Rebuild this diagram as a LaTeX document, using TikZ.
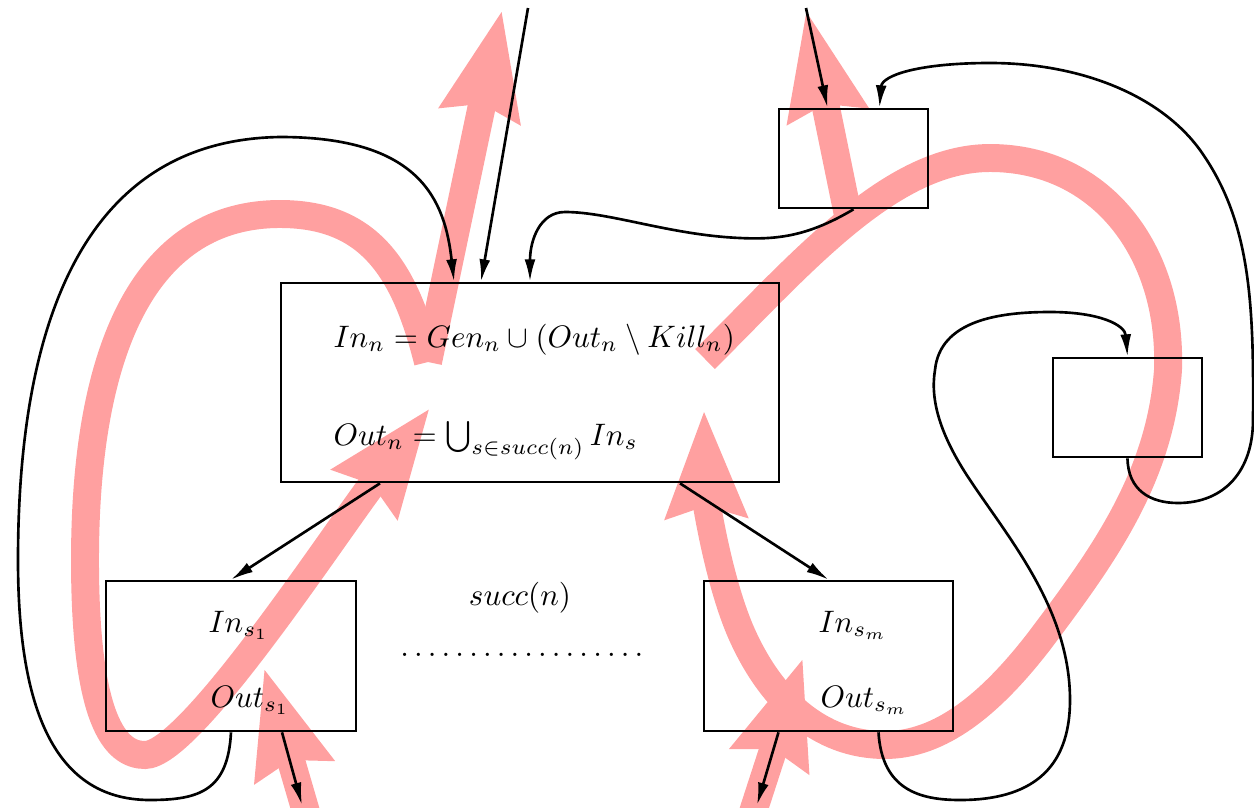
\documentclass[tikz,border=0pt]{standalone}
\usepackage{tikz}
\usetikzlibrary
  {
    arrows.meta,   % Latex and Stealth tips
    backgrounds,   % flows behind the boxes
    calc,          % shifted anchors
  }
\newlength\pxu
\setlength\pxu{0.322pt}
\definecolor{flowpink}{RGB}{255,160,160}

\begin{document}
\begin{tikzpicture}[x=\pxu, y=-\pxu,
    box/.style 2 args = {draw, line width=0.85pt, inner sep=0pt,
      minimum width=#1*\pxu, minimum height=#2*\pxu},
    lbl/.style = {inner sep=0pt, anchor=base west},
    conn/.style = {line width=0.85pt, -{Latex[length=7.2pt,width=3.5pt]}},
    flow/.style = {draw=flowpink, line width=9pt,
      -{Stealth[length=34pt,width=25pt,inset=3.2pt]}},
  ]
  \useasboundingbox (0,0) rectangle (1254,808);

  % the node and its successors
  \node[box={498}{199}] (n)  at (530,382.5) {};
  \node[box={250}{150}] (s1) at (231,656)   {};
  \node[box={249}{150}] (sm) at (828.5,656) {};
  \node[box={149}{99}]  (p1) at (853.5,158.5) {};
  \node[box={149}{99}]  (p2) at (1127.5,407.5) {};

  \node[lbl] (eqin)  at (333,347) {$In_n = Gen_n \cup (Out_n \setminus Kill_n)$};
  \node[lbl] (eqout) at (333,445) {$Out_n = \bigcup_{s \in succ(n)} In_s$};
  \node[lbl] (ins1)  at (208,632) {$In_{s_1}$};
  \node[lbl] (outs1) at (210,707) {$Out_{s_1}$};
  \node[lbl] (insm)  at (818,632) {$In_{s_m}$};
  \node[lbl] (outsm) at (820,707) {$Out_{s_m}$};
  \node (succ) at (520,598) {$succ(n)$};
  \node (dots) at (522,655) {$\ldots\ldots\ldots\ldots\ldots\ldots$};

  \coordinate (topa) at (528,8);
  \coordinate (topb) at (806,8);
  \coordinate (bota) at (302,805);
  \coordinate (botb) at (757,805);

  % control flow
  \draw[conn] ($(n.south)+(-150,0)$) -- (s1.north);
  \draw[conn] ($(n.south)+(150,0)$) -- (sm.north);
  \draw[conn] (topa) -- ($(n.north)+(-49,0)$);
  \draw[conn] (topb) -- ($(p1.north)+(-26,0)$);
  \draw[conn] ($(s1.south)+(51,0)$) -- (bota);
  \draw[conn] ($(sm.south)+(-50,0)$) -- (botb);
  \draw[conn] (s1.south) .. controls (228,790) and (200,800) .. (150,800)
    .. controls (50,800) and (18,700) .. (18,560)
    .. controls (18,330) and (80,140) .. (280,137)
    .. controls (420,137) and (445,200) .. ($(n.north)+(-76,0)$);
  \draw[conn] (p1.south) .. controls (810,235) and (780,240) .. (740,238)
    .. controls (670,235) and (610,212) .. (565,212)
    .. controls (540,212) and (530,240) .. (n.north);
  \draw[conn] ($(sm.south)+(50,0)$) .. controls (882,790) and (920,800) .. (960,800)
    .. controls (1030,800) and (1070,770) .. (1070,700)
    .. controls (1070,610) and (1010,540) .. (970,480)
    .. controls (940,435) and (930,400) .. (935,370)
    .. controls (940,320) and (1000,312) .. (1050,312)
    .. controls (1100,312) and (1125,325) .. (p2.north);
  \draw[conn] (p2.south) .. controls (1128,490) and (1150,503) .. (1178,503)
    .. controls (1225,503) and (1253,470) .. (1253,420)
    .. controls (1254,300) and (1250,220) .. (1200,150)
    .. controls (1160,95) and (1080,63) .. (990,63)
    .. controls (920,63) and (882,75) .. ($(p1.north)+(26,0)$);

  % information flow
  \begin{scope}[on background layer]
    \coordinate (tailin)  at (428,362);
    \coordinate (tailout) at (705,359);
    \coordinate (tailp1)  at (848,215);
    \coordinate (srca) at (306,812);
    \coordinate (srcb) at (753,812);
    \draw[flow] (tailin) .. controls (405,270) and (370,214) .. (280,214)
      .. controls (150,214) and (85,340) .. (85,560)
      .. controls (85,720) and (115,755) .. (145,755)
      .. controls (190,755) and (330,540) .. (430,408);
    \draw[flow] (tailin) -- (502,10);
    \draw[flow] (tailout) .. controls (800,265) and (890,158) .. (990,158)
      .. controls (1100,158) and (1172,250) .. (1168,370)
      .. controls (1160,480) and (1100,560) .. (1040,640)
      .. controls (990,705) and (940,745) .. (885,745)
      .. controls (820,745) and (770,700) .. (740,630)
      .. controls (718,578) and (706,500) .. (704,410);
    \draw[flow] (tailp1) -- (806,10);
    \draw[flow] (srca) -- (264,668);
    \draw[flow] (srcb) -- (803,658);
  \end{scope}
\end{tikzpicture}
\end{document}
